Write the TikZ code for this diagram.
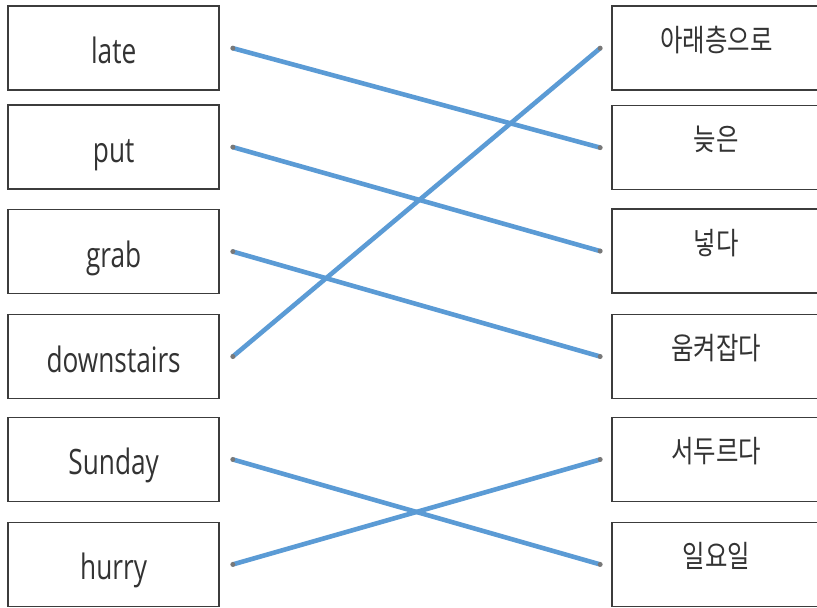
\documentclass[tikz,border=0pt]{standalone}
\usepackage{fontspec}
\setmainfont{Open Sans}[FakeStretch=0.75]
\newfontfamily\korfont{Noto Sans CJK KR}[FakeStretch=0.80]
\definecolor{linkblue}{RGB}{91,155,213}
\definecolor{boxgray}{RGB}{60,60,60}
\definecolor{dotgray}{RGB}{120,120,120}
\tikzset{
  wordbox/.style={draw=boxgray, line width=1.5pt, minimum height=84pt, inner sep=0pt, text=black!80},
  engbox/.style={wordbox, minimum width=211pt, text height=31pt, text depth=0pt,
    font=\fontsize{35}{40}\selectfont},
  korbox/.style={wordbox, minimum width=209pt, text height=6pt, text depth=0pt,
    font=\korfont\fontsize{30.5}{36}\selectfont},
  link/.style={draw=linkblue, line width=4.6pt},
  enddot/.style={fill=dotgray}
}
\begin{document}
\begin{tikzpicture}[x=1pt,y=-1pt]
\filldraw[color=white] (0,0) rectangle (817,607);
\useasboundingbox (0,0) rectangle (817,607);
% Drawing boxes
% Left column: English words
\node[engbox] (late)   at (113.5, 48.0)  {late};
\node[engbox] (put)    at (113.5, 147.0) {put};
\node[engbox] (grab)   at (113.5, 251.5) {grab};
\node[engbox] (down)   at (113.5, 356.5) {downstairs};
\node[engbox] (sunday) at (113.5, 459.5) {Sunday};
\node[engbox] (hurry)  at (113.5, 564.5) {hurry};
% Right column: Korean words
\node[korbox] (araecheung) at (716.5, 48.0)  {아래층으로};
\node[korbox] (neujeun)    at (716.5, 147.5) {늦은};
\node[korbox] (neotda)     at (716.5, 251.0) {넣다};
\node[korbox] (umkyeojapda) at (716.5, 356.5) {움켜잡다};
\node[korbox] (seodureuda) at (716.5, 459.5) {서두르다};
\node[korbox] (iryoil)     at (716.5, 564.5) {일요일};
% Done with boxes; drawing end points
\foreach \w in {late,put,grab,down,sunday,hurry}
  \coordinate (\w-dot) at ([xshift=13pt]\w.east);
\foreach \w in {araecheung,neujeun,neotda,umkyeojapda,seodureuda,iryoil}
  \coordinate (\w-dot) at ([xshift=-11pt]\w.west);
% Drawing links
\draw[link] (late-dot) -- (neujeun-dot);
\draw[link] (put-dot) -- (neotda-dot);
\draw[link] (grab-dot) -- (umkyeojapda-dot);
\draw[link] (down-dot) -- (araecheung-dot);
\draw[link] (sunday-dot) -- (iryoil-dot);
\draw[link] (hurry-dot) -- (seodureuda-dot);
\foreach \w in {late,put,grab,down,sunday,hurry,araecheung,neujeun,neotda,umkyeojapda,seodureuda,iryoil}
  \fill[enddot] (\w-dot) circle (2.5pt);
% Done with links
\end{tikzpicture}
\end{document}
